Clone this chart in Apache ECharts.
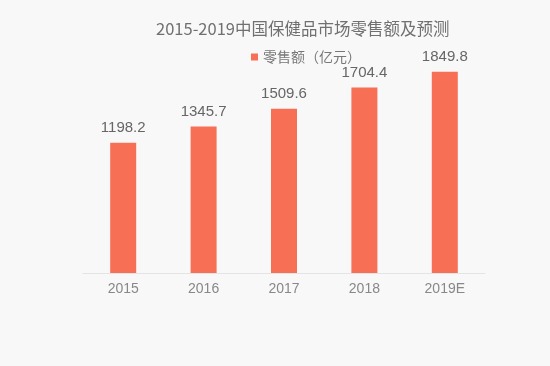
<!DOCTYPE html>
<html><head><meta charset="utf-8">
<script src="https://cdn.jsdelivr.net/npm/echarts@6/dist/echarts.min.js"></script>
<style>html,body{margin:0;padding:0;background:#f8f8f8}#c{width:550px;height:366px}</style>
</head><body><div id="c"></div>
<script>
const categories = ['2015','2016','2017','2018','2019E'];
const seriesName = '零售额（亿元）';
const values = [1198.2, 1345.7, 1509.6, 1704.4, 1849.8];
const titleText = '2015-2019中国保健品市场零售额及预测';

const chart = echarts.init(document.getElementById('c'));
chart.setOption({
  backgroundColor: '#f8f8f8',
  title: {
    text: titleText, left: 151, top: 15,
    textStyle: {fontSize: 16.5, fontWeight: 'normal', color: '#707070', fontFamily: 'Noto Sans CJK SC'}
  },
  legend: {
    data: [seriesName], top: 45, left: 246, itemWidth: 7, itemHeight: 7, itemGap: 4,
    icon: 'rect',
    textStyle: {fontSize: 14, color: '#777', fontFamily: 'Noto Sans CJK SC'}
  },
  grid: {left: 83, right: 65, top: 55.4, bottom: 93},
  xAxis: {
    type: 'category', data: categories,
    axisLine: {lineStyle: {color: '#e4e4e4'}},
    axisTick: {show: false},
    axisLabel: {fontSize: 14, color: '#888', margin: 9, fontFamily: 'Liberation Sans'}
  },
  yAxis: {type: 'value', min: 0, max: 2000, show: false, splitLine: {show: false}},
  series: [{
    name: seriesName, type: 'bar', data: values, barWidth: 26,
    itemStyle: {color: '#f76f55'},
    label: {show: true, position: 'top', distance: 7, fontSize: 15, color: '#666', fontFamily: 'Liberation Sans'}
  }]
});
</script></body></html>
